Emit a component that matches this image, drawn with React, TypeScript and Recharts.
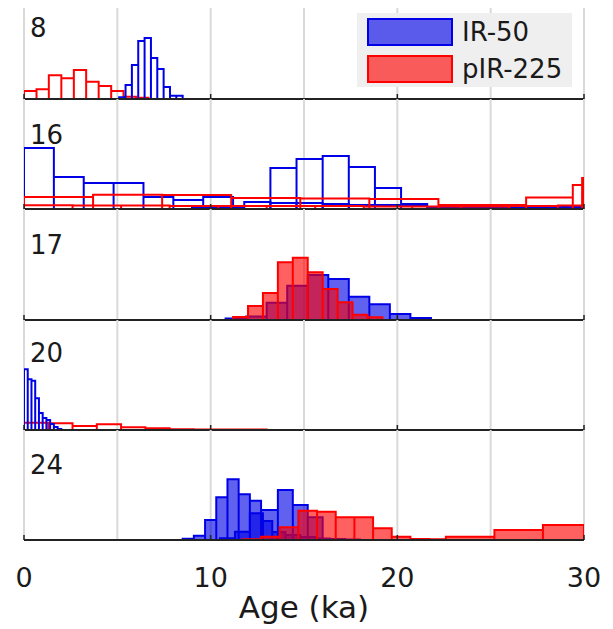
import React from 'react';
import { ComposedChart, Area, XAxis, YAxis, CartesianGrid, ReferenceLine } from 'recharts';

// shared x axis (ka)
const gridTicks = [0, 5, 10, 15, 20, 25, 30];
const labelTicks = [0, 10, 20, 30];

// panel "8"
const p8BlueEdges = [5.1, 5.44, 5.78, 6.12, 6.46, 6.8, 7.14, 7.48, 7.82, 8.16, 8.5];
const p8BlueCounts = [1.7, 14, 34, 58, 61, 41, 30, 12, 3.3, 3.3];
const p8RedEdges = [0, 0.67, 1.33, 2, 2.67, 3.33, 4, 4.67, 5.33, 6, 6.67];
const p8RedCounts = [8, 9.7, 23.7, 20.7, 29, 17.3, 13, 8, 2.3, 1.3];

// panel "16"
const p16BlueAEdges = [0, 1.6, 3.2, 4.8, 6.4, 8, 9.6, 11.2];
const p16BlueACounts = [61, 32, 26, 26, 12, 9, 12];
const p16BlueBEdges = [13.2, 14.6, 16, 17.4, 18.8, 20.2, 21.6];
const p16BlueBCounts = [41, 50, 53, 42, 21, 5];
const p16BlueCEdges = [9, 10.4, 11.8, 13.2, 14.6, 16, 17.4, 18.8, 20.2, 21.6, 23, 24.4, 25.8, 27.2, 28.6, 30];
const p16BlueCCounts = [1.5, 2, 7, 6, 6, 5, 4, 4, 3, 2, 2, 1.5, 1.5, 2, 2];
const p16RedAEdges = [0, 3.7, 7.4, 11.1, 14.8, 18.5, 22.2, 26.9, 29.4, 29.9, 30];
const p16RedACounts = [12, 14.3, 14, 11, 10.5, 10, 4, 11.6, 24, 31];
const p16RedBEdges = [0, 2.6, 5.2, 7.8, 10.4, 13, 15.6, 18.2, 20.8, 23.4, 26, 28.6, 30];
const p16RedBCounts = [3.7, 3.5, 3.5, 3, 3, 3, 3, 2.5, 2.5, 2.5, 3, 3.5];

// panel "17"
const p17BlueEdges = [10.8, 11.9, 13, 14.1, 15.2, 16.3, 17.4, 18.5, 19.6, 20.7, 21.8];
const p17BlueCounts = [1.5, 3.5, 17.3, 34.3, 45, 41, 23.3, 15.7, 6, 2];
const p17RedEdges = [11.2, 12, 12.8, 13.6, 14.4, 15.2, 16, 16.8, 17.6, 18.4, 19.2];
const p17RedCounts = [3, 14, 27, 57.7, 62.3, 47.7, 31, 17.7, 5.3, 2.7];

// panel "20"
const p20BlueEdges = [0, 0.2, 0.4, 0.6, 0.8, 1, 1.2, 1.4, 1.6, 1.8, 2];
const p20BlueCounts = [60.7, 50.7, 49.3, 31.7, 17, 12, 10, 6, 3, 1];
const p20RedEdges = [0, 1.3, 2.6, 3.9, 5.2, 6.5, 7.8, 9.1, 10.4, 11.7, 13];
const p20RedCounts = [7.3, 6.7, 4, 5.7, 2.7, 1.7, 0.7, 0.5, 0.5, 0.5];

// panel "24"
const p24BlueAEdges = [8.5, 9.1, 9.7, 10.3, 10.9, 11.5, 12.1, 12.7, 13.6, 14.4, 15.2, 16];
const p24BlueACounts = [1.3, 4.3, 20, 42.7, 60.7, 45.7, 39.3, 30, 50, 35, 22.7];
const p24BlueBEdges = [10.5, 11.3, 12.1, 12.8, 13.3, 14, 14.8, 15.6, 16.4, 17.2, 18];
const p24BlueBCounts = [1.7, 8.3, 26.7, 19, 8, 5, 3, 1.5, 1, 0.5];
const p24RedEdges = [11.7, 12.7, 13.7, 14.7, 15.7, 16.7, 17.7, 18.7, 19.7, 20.7, 21.7, 22.6, 25.2, 27.8, 30];
const p24RedCounts = [0.7, 3.3, 12.7, 29.3, 28.3, 22.7, 22.7, 11.7, 3.3, 1, 0.7, 3.3, 10, 15];

const BLUE = '#0000e6';
const RED = '#ff0000';
const FONT = '"DejaVu Sans", sans-serif';

type Hist = { edges: number[]; counts: number[]; color: string; filled: boolean };

// corner points of each bin so the area outlines every bar
function steps(edges: number[], counts: number[]) {
  const pts: { x: number; y: number }[] = [];
  counts.forEach((c, i) => {
    pts.push({ x: edges[i], y: 0 }, { x: edges[i], y: c }, { x: edges[i + 1], y: c }, { x: edges[i + 1], y: 0 });
  });
  return pts;
}

interface PanelProps {
  top: number;
  plotHeight: number;
  hists: Hist[];
  showAxis?: boolean;
}

function Panel({ top, plotHeight, hists, showAxis = false }: PanelProps) {
  const axisHeight = showAxis ? 89 : 0;
  const pad = showAxis ? 0 : 3;
  return (
    <div style={{ position: 'absolute', left: 0, top }}>
      <ComposedChart
        width={613}
        height={plotHeight + axisHeight + pad}
        margin={{ top: 0, right: 29, bottom: pad, left: 24 }}
      >
        <CartesianGrid horizontal={false} stroke="#d9d9d9" strokeWidth={2} />
        <XAxis
          type="number"
          dataKey="x"
          domain={[0, 30]}
          ticks={gridTicks}
          interval={0}
          allowDataOverflow
          hide={!showAxis}
          height={axisHeight}
          axisLine={false}
          tickLine={false}
          tickSize={0}
          tickMargin={28}
          tick={{ fontSize: 27, fill: '#1a1a1a' }}
          tickFormatter={(v: number) => (labelTicks.includes(v) ? String(v) : '')}
          label={showAxis ? { value: 'Age (ka)', position: 'insideBottom', offset: 11, fontSize: 31, fill: '#1a1a1a' } : undefined}
        />
        <YAxis hide type="number" domain={[0, plotHeight]} allowDataOverflow />
        {hists.map((h, i) => (
          <Area
            key={i}
            type="linear"
            data={steps(h.edges, h.counts)}
            dataKey="y"
            stroke={h.color}
            strokeWidth={2}
            fill={h.color}
            fillOpacity={h.filled ? 0.62 : 0}
            baseValue={0}
            dot={false}
            activeDot={false}
            isAnimationActive={false}
          />
        ))}
        <ReferenceLine y={0} stroke="#222" strokeWidth={2} />
        {labelTicks.map((t) => (
          <ReferenceLine key={t} segment={[{ x: t, y: 0 }, { x: t, y: 5 }]} stroke="#222" strokeWidth={1.5} />
        ))}
      </ComposedChart>
    </div>
  );
}

const labelStyle: React.CSSProperties = {
  position: 'absolute',
  left: 30,
  fontSize: 26,
  lineHeight: 1,
  color: '#1a1a1a',
};

export default function App() {
  return (
    <div style={{ position: 'absolute', left: 0, top: 0, width: 613, height: 629, background: '#fff', overflow: 'hidden', fontFamily: FONT }}>
      <Panel
        top={8}
        plotHeight={91}
        hists={[
          { edges: p8RedEdges, counts: p8RedCounts, color: RED, filled: false },
          { edges: p8BlueEdges, counts: p8BlueCounts, color: BLUE, filled: false },
        ]}
      />
      <Panel
        top={99}
        plotHeight={110}
        hists={[
          { edges: p16BlueCEdges, counts: p16BlueCCounts, color: BLUE, filled: false },
          { edges: p16BlueAEdges, counts: p16BlueACounts, color: BLUE, filled: false },
          { edges: p16BlueBEdges, counts: p16BlueBCounts, color: BLUE, filled: false },
          { edges: p16RedBEdges, counts: p16RedBCounts, color: RED, filled: false },
          { edges: p16RedAEdges, counts: p16RedACounts, color: RED, filled: false },
        ]}
      />
      <Panel
        top={209}
        plotHeight={111}
        hists={[
          { edges: p17BlueEdges, counts: p17BlueCounts, color: BLUE, filled: true },
          { edges: p17RedEdges, counts: p17RedCounts, color: RED, filled: true },
        ]}
      />
      <Panel
        top={320}
        plotHeight={110}
        hists={[
          { edges: p20RedEdges, counts: p20RedCounts, color: RED, filled: false },
          { edges: p20BlueEdges, counts: p20BlueCounts, color: BLUE, filled: false },
        ]}
      />
      <Panel
        top={430}
        plotHeight={110}
        showAxis
        hists={[
          { edges: p24BlueAEdges, counts: p24BlueACounts, color: BLUE, filled: true },
          { edges: p24BlueBEdges, counts: p24BlueBCounts, color: BLUE, filled: true },
          { edges: p24RedEdges, counts: p24RedCounts, color: RED, filled: true },
        ]}
      />

      <div style={{ ...labelStyle, top: 15 }}>8</div>
      <div style={{ ...labelStyle, top: 122 }}>16</div>
      <div style={{ ...labelStyle, top: 232 }}>17</div>
      <div style={{ ...labelStyle, top: 340 }}>20</div>
      <div style={{ ...labelStyle, top: 452 }}>24</div>

      {/* Legend */}
      <div style={{ position: 'absolute', left: 357, top: 13, width: 215, height: 74, background: '#efefef' }}>
        <div style={{ position: 'absolute', left: 10, top: 5, width: 86, height: 28, boxSizing: 'border-box', border: `2px solid ${BLUE}`, background: 'rgba(0,0,232,0.62)' }} />
        <div style={{ position: 'absolute', left: 105, top: 6, fontSize: 26, lineHeight: 1, color: '#1a1a1a' }}>IR-50</div>
        <div style={{ position: 'absolute', left: 10, top: 42, width: 86, height: 28, boxSizing: 'border-box', border: `2px solid ${RED}`, background: 'rgba(255,0,0,0.62)' }} />
        <div style={{ position: 'absolute', left: 105, top: 43, fontSize: 26, lineHeight: 1, color: '#1a1a1a' }}>pIR-225</div>
      </div>
    </div>
  );
}
